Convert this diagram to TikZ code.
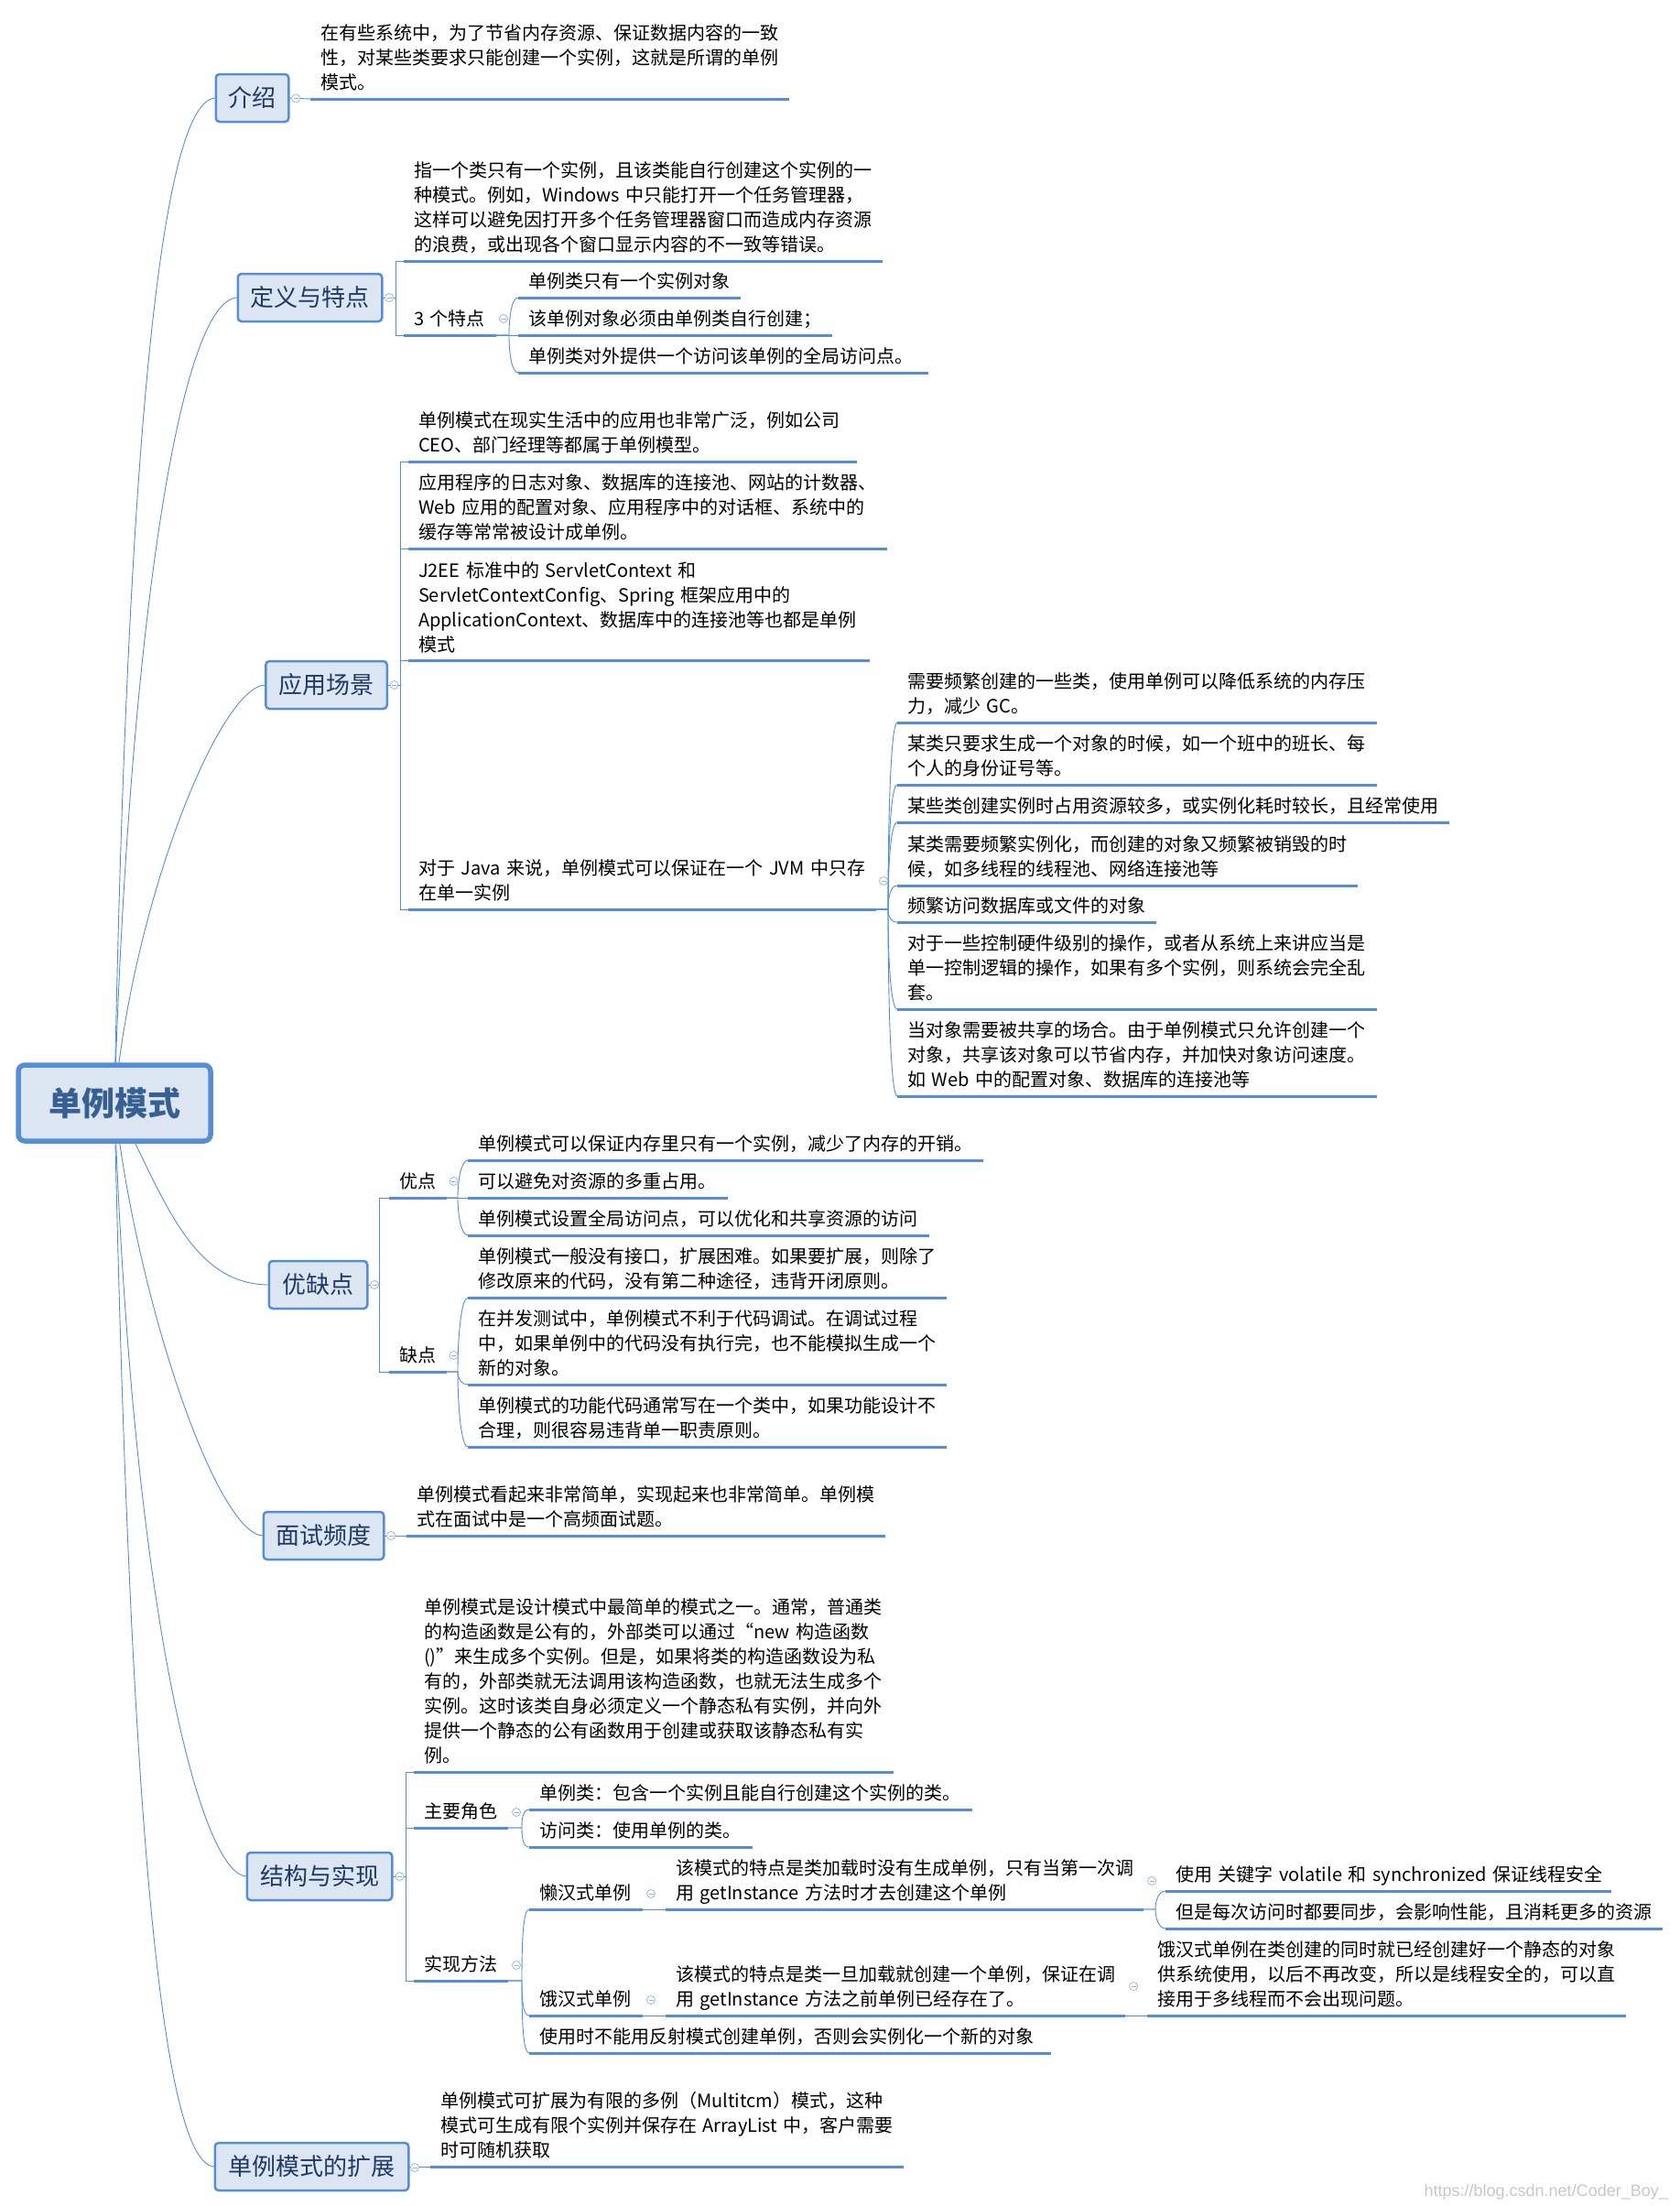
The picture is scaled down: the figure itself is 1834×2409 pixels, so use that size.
\documentclass[tikz,border=0pt]{standalone}
\usepackage{fontspec}
\setmainfont{Noto Sans CJK SC}
\newfontfamily\markfont{Liberation Sans}
\usetikzlibrary{backgrounds}
\definecolor{linecol}{HTML}{558ED5}
\definecolor{foldcol}{HTML}{8DB3E2}
\definecolor{boxfill}{HTML}{DCE6F2}
\definecolor{topiccol}{HTML}{1F3864}
\definecolor{rootcol}{HTML}{376092}
\tikzset{
  x=1pt, y=-1pt,
  root/.style={draw=linecol, fill=boxfill, line width=5.5pt, rounded corners=7pt, outer sep=0pt, inner sep=0pt, text=rootcol, font=\fontsize{36}{40}\selectfont\bfseries},
  topic/.style={draw=linecol, fill=boxfill, line width=2.5pt, rounded corners=4pt, outer sep=0pt, inner sep=0pt, minimum height=52pt, text=topiccol, font=\fontsize{26}{30}\selectfont},
  leaf/.style={anchor=south west, inner xsep=11pt, inner ysep=2pt, outer sep=0pt, text width=#1pt-22pt, align=left, font=\fontsize{20}{27}\selectfont, execute at end node=\strut},
  uline/.style={draw=linecol, line width=3pt},
  twig/.style={draw=linecol, line width=.9pt},
  fold/.style={circle, draw=foldcol, fill=white, line width=.7pt, minimum size=9pt, inner sep=0pt,
    path picture={\draw[foldcol, line width=.7pt] ([xshift=-2.5pt]path picture bounding box.center) -- ([xshift=2.5pt]path picture bounding box.center);}}
}
\begin{document}
\begin{tikzpicture}
  \useasboundingbox (0,0) rectangle (1834,2409);
  % centre and main topics
  \node[root, minimum width=210pt, minimum height=83pt] (danli) at (125,1204.5) {单例模式};
  \node[topic, minimum width=79.5pt] (jieshao) at (275.5,107) {介绍};
  \node[topic, minimum width=157.5pt] (dingyi) at (338.5,325) {定义与特点};
  \node[topic, minimum width=132.5pt] (yingyong) at (356.5,748) {应用场景};
  \node[topic, minimum width=107.5pt] (youque) at (347.5,1403) {优缺点};
  \node[topic, minimum width=131.5pt] (mianshi) at (353.5,1677) {面试频度};
  \node[topic, minimum width=158.5pt] (jiegou) at (349,2049) {结构与实现};
  \node[topic, minimum width=211.5pt] (kuozhan) at (340.5,2366) {单例模式的扩展};
  % first level texts
  \node[leaf=523] (intro) at (339,108) {在有些系统中，为了节省内存资源、保证数据内容的一致\\性，对某些类要求只能创建一个实例，这就是所谓的单例\\模式。};
  \node[leaf=523] (defn) at (441,285) {指一个类只有一个实例，且该类能自行创建这个实例的一\\种模式。例如，Windows~中只能打开一个任务管理器，\\这样可以避免因打开多个任务管理器窗口而造成内存资源\\的浪费，或出现各个窗口显示内容的不一致等错误。};
  \node[leaf=101] (tedian) at (441,366) {3~个特点};
  \node[leaf=243] (td1) at (566,325) {单例类只有一个实例对象};
  \node[leaf=343] (td2) at (566,366) {该单例对象必须由单例类自行创建；};
  \node[leaf=448] (td3) at (566,407) {单例类对外提供一个访问该单例的全局访问点。};
  \node[leaf=490] (sc1) at (446,504) {单例模式在现实生活中的应用也非常广泛，例如公司\\CEO、部门经理等都属于单例模型。};
  \node[leaf=523] (sc2) at (446,599) {应用程序的日志对象、数据库的连接池、网站的计数器、\\Web~应用的配置对象、应用程序中的对话框、系统中的\\缓存等常常被设计成单例。};
  \node[leaf=504] (sc3) at (446,721.5) {J2EE~标准中的~ServletContext~和\\ServletContextConfig、Spring~框架应用中的\\ApplicationContext、数据库中的连接池等也都是单例\\模式};
  \node[leaf=511] (sc4) at (446,993) {对于~Java~来说，单例模式可以保证在一个~JVM~中只存\\在单一实例};
  \node[leaf=523.5] (ja1) at (980,789) {需要频繁创建的一些类，使用单例可以降低系统的内存压\\力，减少~GC。};
  \node[leaf=523.5] (ja2) at (980,857) {某类只要求生成一个对象的时候，如一个班中的班长、每\\个人的身份证号等。};
  \node[leaf=603] (ja3) at (980,898) {某些类创建实例时占用资源较多，或实例化耗时较长，且经常使用};
  \node[leaf=503] (ja4) at (980,967) {某类需要频繁实例化，而创建的对象又频繁被销毁的时\\候，如多线程的线程池、网络连接池等};
  \node[leaf=283] (ja5) at (980,1007) {频繁访问数据库或文件的对象};
  \node[leaf=523.5] (ja6) at (980,1102) {对于一些控制硬件级别的操作，或者从系统上来讲应当是\\单一控制逻辑的操作，如果有多个实例，则系统会完全乱\\套。};
  \node[leaf=523.5] (ja7) at (980,1197) {当对象需要被共享的场合。由于单例模式只允许创建一个\\对象，共享该对象可以节省内存，并加快对象访问速度。\\如~Web~中的配置对象、数据库的连接池等};
  \node[leaf=63] (youdian) at (425,1308) {优点};
  \node[leaf=563] (yd1) at (511,1267) {单例模式可以保证内存里只有一个实例，减少了内存的开销。};
  \node[leaf=284] (yd2) at (511,1308) {可以避免对资源的多重占用。};
  \node[leaf=504] (yd3) at (511,1349) {单例模式设置全局访问点，可以优化和共享资源的访问};
  \node[leaf=63] (quedian) at (425,1498) {缺点};
  \node[leaf=523] (qd1) at (511,1417) {单例模式一般没有接口，扩展困难。如果要扩展，则除了\\修改原来的代码，没有第二种途径，违背开闭原则。};
  \node[leaf=523] (qd2) at (511,1512) {在并发测试中，单例模式不利于代码调试。在调试过程\\中，如果单例中的代码没有执行完，也不能模拟生成一个\\新的对象。};
  \node[leaf=523] (qd3) at (511,1580) {单例模式的功能代码通常写在一个类中，如果功能设计不\\合理，则很容易违背单一职责原则。};
  \node[leaf=523] (mstxt) at (444,1677) {单例模式看起来非常简单，实现起来也非常简单。单例模\\式在面试中是一个高频面试题。};
  \node[leaf=524] (jgtxt) at (452,1935) {单例模式是设计模式中最简单的模式之一。通常，普通类\\的构造函数是公有的，外部类可以通过“new~构造函数\\()”来生成多个实例。但是，如果将类的构造函数设为私\\有的，外部类就无法调用该构造函数，也就无法生成多个\\实例。这时该类自身必须定义一个静态私有实例，并向外\\提供一个静态的公有函数用于创建或获取该静态私有实\\例。};
  \node[leaf=103] (juese) at (452,1996) {主要角色};
  \node[leaf=484] (js1) at (578,1976) {单例类：包含一个实例且能自行创建这个实例的类。};
  \node[leaf=244] (js2) at (578,2017) {访问类：使用单例的类。};
  \node[leaf=103] (shixian) at (452,2163) {实现方法};
  \node[leaf=124] (lanhan) at (578,2085) {懒汉式单例};
  \node[leaf=522] (lhtxt) at (727,2085) {该模式的特点是类加载时没有生成单例，只有当第一次调\\用~getInstance~方法时才去创建这个单例};
  \node[leaf=487] (lh1) at (1273,2065) {\mbox{使用 关键字 volatile 和 synchronized 保证线程安全}};
  \node[leaf=543] (lh2) at (1273,2106) {但是每次访问时都要同步，会影响性能，且消耗更多的资源};
  \node[leaf=124] (ehan) at (578,2201) {饿汉式单例};
  \node[leaf=502] (ehtxt) at (727,2201) {该模式的特点是类一旦加载就创建一个单例，保证在调\\用~getInstance~方法之前单例已经存在了。};
  \node[leaf=523] (eh1) at (1253,2201) {饿汉式单例在类创建的同时就已经创建好一个静态的对象\\供系统使用，以后不再改变，所以是线程安全的，可以直\\接用于多线程而不会出现问题。};
  \node[leaf=570] (fanshe) at (578,2242) {使用时不能用反射模式创建单例，否则会实例化一个新的对象};
  \node[leaf=517] (kztxt) at (470,2366) {单例模式可扩展为有限的多例（Multitcm）模式，这种\\模式可生成有限个实例并保存在~ArrayList~中，客户需要\\时可随机获取};
  \node[text=black!22, font=\fontsize{18}{20}\selectfont\markfont, inner sep=0pt, anchor=east] (csdn) at (1822,2394) {https://blog.csdn.net/Coder\_Boy\_};
  % lines under the texts
  \foreach \n in {intro,defn,tedian,td1,td2,td3,sc1,sc2,sc3,sc4,ja1,ja2,ja3,ja4,ja5,ja6,ja7,youdian,yd1,yd2,yd3,quedian,qd1,qd2,qd3,mstxt,jgtxt,juese,js1,js2,shixian,lanhan,lhtxt,lh1,lh2,ehan,ehtxt,eh1,fanshe,kztxt}
    \draw[uline] (\n.south west) -- (\n.south east);
  % branches from the centre
  \begin{scope}[on background layer]
    \draw[twig] (danli.center) .. controls +(12,-650) and +(-65,0) .. (jieshao.west);
    \draw[twig] (danli.center) .. controls +(15,-500) and +(-65,0) .. (dingyi.west);
    \draw[twig] (danli.center) .. controls +(20,-220) and +(-50,0) .. (yingyong.west);
    \draw[twig] (danli.center) .. controls +(50,90) and +(-90,0) .. (youque.west);
    \draw[twig] (danli.center) .. controls +(25,220) and +(-50,0) .. (mianshi.west);
    \draw[twig] (danli.center) .. controls +(20,560) and +(-50,0) .. (jiegou.west);
    \draw[twig] (danli.center) .. controls +(15,696) and +(-64,0) .. (kuozhan.west);
  \end{scope}
  % brackets behind the topics
  \coordinate (dingyi bar) at (432,325);
  \coordinate (yingyong bar) at (437,748);
  \coordinate (youque bar) at (414.5,1403);
  \coordinate (jiegou bar) at (443,2049);
  \draw[twig] (jieshao.east) -- (intro.south west);
  \draw[twig] (mianshi.east) -- (mstxt.south west);
  \draw[twig] (kuozhan.east) -- (kztxt.south west);
  \draw[twig] (dingyi.east) -- (dingyi bar);
  \draw[twig] (yingyong.east) -- (yingyong bar);
  \draw[twig] (youque.east) -- (youque bar);
  \draw[twig] (jiegou.east) -- (jiegou bar);
  \draw[twig] (defn.south west) -- ++(-9,0) |- (tedian.south west);
  \foreach \n in {sc2,sc3,sc4}
    \draw[twig] (sc1.south west) -- ++(-9,0) |- (\n.south west);
  \draw[twig] (youdian.south west) -- ++(-10.5,0) |- (quedian.south west);
  \foreach \n in {juese,shixian}
    \draw[twig] (jgtxt.south west) -- ++(-9,0) |- (\n.south west);
  % curved branches of the subtopics
  \draw[twig] (tedian.south east) -- (td2.south west);
  \draw[twig] (youdian.south east) -- (yd2.south west);
  \draw[twig] (lanhan.south east) -- (lhtxt.south west);
  \draw[twig] (ehan.south east) -- (ehtxt.south west);
  \draw[twig] (ehtxt.south east) -- (eh1.south west);
  \foreach \p/\n/\j/\d in {tedian/td1/14/-20,tedian/td3/14/20,
      sc4/ja1/13/-100,sc4/ja2/13/-70,sc4/ja3/13/-50,sc4/ja4/13/-14,sc4/ja5/13/8,sc4/ja6/13/55,sc4/ja7/13/100,
      youdian/yd1/12/-20,youdian/yd3/12/20,
      quedian/qd1/12/-40,quedian/qd2/12/8,quedian/qd3/12/40,
      juese/js1/15/-10,juese/js2/15/10,
      shixian/lanhan/15/-40,shixian/ehan/15/20,shixian/fanshe/15/40,
      lhtxt/lh1/13/-10,lhtxt/lh2/13/10}
    \draw[twig] (\p.south east) -- ++(\j,0) .. controls +(0,\d) and +(-7,0) .. (\n.south west);
  % collapse marks
  \node[fold] (f1) at (323,107.5) {};
  \node[fold] (f2) at (425,325) {};
  \node[fold] (f3) at (550,348) {};
  \node[fold] (f4) at (430.5,748) {};
  \node[fold] (f5) at (965,962) {};
  \node[fold] (f6) at (409,1403) {};
  \node[fold] (f7) at (495.5,1290) {};
  \node[fold] (f8) at (495.5,1480) {};
  \node[fold] (f9) at (427,1677) {};
  \node[fold] (f10) at (436.5,2049) {};
  \node[fold] (f11) at (564,1979) {};
  \node[fold] (f12) at (564,2146) {};
  \node[fold] (f13) at (711,2068) {};
  \node[fold] (f14) at (1258,2054) {};
  \node[fold] (f15) at (711,2184) {};
  \node[fold] (f16) at (1238,2169) {};
  \node[fold] (f17) at (453,2367) {};
\end{tikzpicture}
\end{document}
